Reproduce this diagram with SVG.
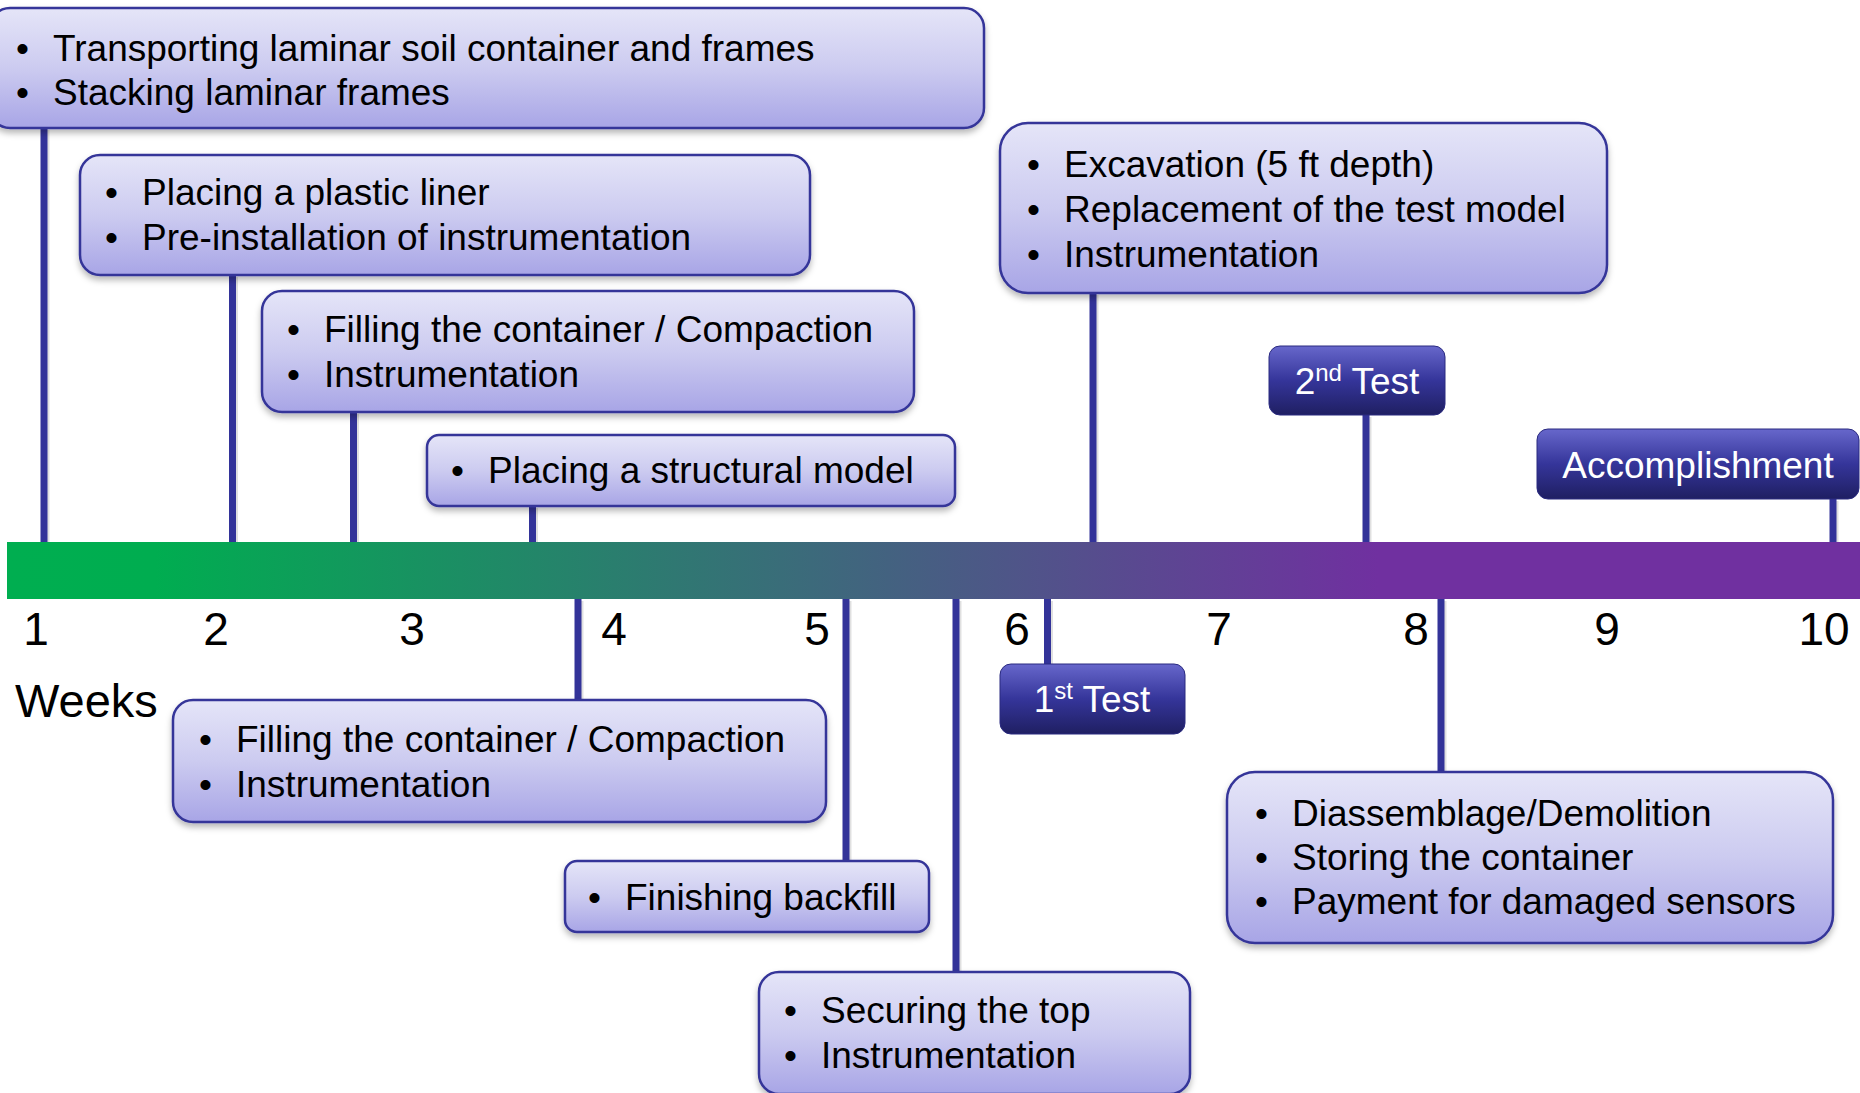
<svg xmlns="http://www.w3.org/2000/svg" width="1860" height="1093" viewBox="0 0 1860 1093">
<defs>
<linearGradient id="lightFill" x1="0" y1="0" x2="0" y2="1">
<stop offset="0" stop-color="#e5e5f8"/>
<stop offset="0.5" stop-color="#cccbf0"/>
<stop offset="1" stop-color="#a8a5e6"/>
</linearGradient>
<linearGradient id="darkFill" x1="0" y1="0" x2="0" y2="1">
<stop offset="0" stop-color="#6767cb"/>
<stop offset="0.5" stop-color="#35359a"/>
<stop offset="1" stop-color="#1f1f62"/>
</linearGradient>
<linearGradient id="barFill" x1="0" y1="0" x2="1" y2="0">
<stop offset="0" stop-color="#00ae50"/>
<stop offset="0.08" stop-color="#00ad50"/>
<stop offset="0.74" stop-color="#7030a0"/>
<stop offset="1" stop-color="#7030a0"/>
</linearGradient>
<filter id="shadow" x="-5%" y="-10%" width="110%" height="130%">
<feDropShadow dx="0" dy="4" stdDeviation="3" flood-color="#000" flood-opacity="0.28"/>
</filter>
</defs>
<style>
.box{fill:url(#lightFill);stroke:#343499;stroke-width:2.5;filter:url(#shadow)}
.dbox{fill:url(#darkFill);stroke:#2a2a80;stroke-width:1}
.t{font-family:"Liberation Sans",Arial,sans-serif;font-size:37px;fill:#000}
.w{font-family:"Liberation Sans",Arial,sans-serif;font-size:37px;fill:#fff;text-anchor:middle}
.num{font-family:"Liberation Sans",Arial,sans-serif;font-size:46px;fill:#000;text-anchor:middle}
.conn line{stroke:#333399;stroke-width:7}
.connsh line{stroke:#000;stroke-opacity:0.12;stroke-width:7}
</style>
<rect width="1860" height="1093" fill="#ffffff"/>

<g id="timeline-bar">
<rect x="7" y="542" width="1853" height="57" fill="url(#barFill)"/>
</g>

<g id="connectors">
<g class="connsh" transform="translate(2,2)">
<line x1="44" y1="128" x2="44" y2="540"/>
<line x1="232.5" y1="275" x2="232.5" y2="540"/>
<line x1="353.5" y1="412" x2="353.5" y2="540"/>
<line x1="532.5" y1="506" x2="532.5" y2="540"/>
<line x1="1093" y1="293" x2="1093" y2="540"/>
<line x1="1366" y1="415" x2="1366" y2="540"/>
<line x1="1833" y1="499" x2="1833" y2="540"/>
<line x1="578" y1="599" x2="578" y2="698"/>
<line x1="846" y1="599" x2="846" y2="859"/>
<line x1="956" y1="599" x2="956" y2="970"/>
<line x1="1047.5" y1="599" x2="1047.5" y2="662"/>
<line x1="1441" y1="599" x2="1441" y2="770"/>
</g>
<g class="conn">
<line x1="44" y1="128" x2="44" y2="542"/>
<line x1="232.5" y1="275" x2="232.5" y2="542"/>
<line x1="353.5" y1="412" x2="353.5" y2="542"/>
<line x1="532.5" y1="506" x2="532.5" y2="542"/>
<line x1="1093" y1="293" x2="1093" y2="542"/>
<line x1="1366" y1="415" x2="1366" y2="542"/>
<line x1="1833" y1="499" x2="1833" y2="542"/>
<line x1="578" y1="599" x2="578" y2="700"/>
<line x1="846" y1="599" x2="846" y2="861"/>
<line x1="956" y1="599" x2="956" y2="972"/>
<line x1="1047.5" y1="599" x2="1047.5" y2="664"/>
<line x1="1441" y1="599" x2="1441" y2="772"/>
</g>
</g>

<g id="week-labels">
<text class="num" x="36" y="645">1</text>
<text class="num" x="216" y="645">2</text>
<text class="num" x="412" y="645">3</text>
<text class="num" x="614" y="645">4</text>
<text class="num" x="817" y="645">5</text>
<text class="num" x="1017" y="645">6</text>
<text class="num" x="1219" y="645">7</text>
<text class="num" x="1416" y="645">8</text>
<text class="num" x="1607" y="645">9</text>
<text class="num" x="1824" y="645">10</text>
<text x="15" y="717" style="font-family:'Liberation Sans',Arial,sans-serif;font-size:47px;fill:#000">Weeks</text>
</g>

<g id="box-transport">
<rect class="box" x="-10" y="8" width="994" height="120" rx="20"/>
<text class="t" x="16" y="61">•</text><text class="t" x="53" y="61">Transporting laminar soil container and frames</text>
<text class="t" x="16" y="105">•</text><text class="t" x="53" y="105">Stacking laminar frames</text>
</g>

<g id="box-liner">
<rect class="box" x="80" y="155" width="730" height="120" rx="20"/>
<text class="t" x="105" y="205">•</text><text class="t" x="142" y="205">Placing a plastic liner</text>
<text class="t" x="105" y="250">•</text><text class="t" x="142" y="250">Pre-installation of instrumentation</text>
</g>

<g id="box-filling1">
<rect class="box" x="262" y="291" width="652" height="121" rx="20"/>
<text class="t" x="287" y="342">•</text><text class="t" x="324" y="342">Filling the container / Compaction</text>
<text class="t" x="287" y="387">•</text><text class="t" x="324" y="387">Instrumentation</text>
</g>

<g id="box-structural">
<rect class="box" x="427" y="435" width="528" height="71" rx="12"/>
<text class="t" x="451" y="483">•</text><text class="t" x="488" y="483">Placing a structural model</text>
</g>

<g id="box-excavation">
<rect class="box" x="1000" y="123" width="607" height="170" rx="28"/>
<text class="t" x="1027" y="177">•</text><text class="t" x="1064" y="177">Excavation (5 ft depth)</text>
<text class="t" x="1027" y="222">•</text><text class="t" x="1064" y="222">Replacement of the test model</text>
<text class="t" x="1027" y="267">•</text><text class="t" x="1064" y="267">Instrumentation</text>
</g>

<g id="box-test2">
<rect class="dbox" x="1269" y="346" width="176" height="69" rx="11"/>
<text class="w" x="1357" y="394">2<tspan font-size="24" dy="-13">nd</tspan><tspan dy="13"> Test</tspan></text>
</g>

<g id="box-accomplishment">
<rect class="dbox" x="1537" y="429" width="322" height="70" rx="11"/>
<text class="w" x="1698" y="478">Accomplishment</text>
</g>

<g id="box-filling2">
<rect class="box" x="173" y="700" width="653" height="122" rx="20"/>
<text class="t" x="199" y="752">•</text><text class="t" x="236" y="752">Filling the container / Compaction</text>
<text class="t" x="199" y="797">•</text><text class="t" x="236" y="797">Instrumentation</text>
</g>

<g id="box-backfill">
<rect class="box" x="565" y="861" width="364" height="71" rx="12"/>
<text class="t" x="588" y="910">•</text><text class="t" x="625" y="910">Finishing backfill</text>
</g>

<g id="box-securing">
<rect class="box" x="759" y="972" width="431" height="122" rx="20"/>
<text class="t" x="784" y="1023">•</text><text class="t" x="821" y="1023">Securing the top</text>
<text class="t" x="784" y="1068">•</text><text class="t" x="821" y="1068">Instrumentation</text>
</g>

<g id="box-test1">
<rect class="dbox" x="1000" y="664" width="185" height="70" rx="11"/>
<text class="w" x="1092" y="712">1<tspan font-size="24" dy="-13">st</tspan><tspan dy="13"> Test</tspan></text>
</g>

<g id="box-disassembly">
<rect class="box" x="1227" y="772" width="606" height="171" rx="28"/>
<text class="t" x="1255" y="826">•</text><text class="t" x="1292" y="826">Diassemblage/Demolition</text>
<text class="t" x="1255" y="870">•</text><text class="t" x="1292" y="870">Storing the container</text>
<text class="t" x="1255" y="914">•</text><text class="t" x="1292" y="914">Payment for damaged sensors</text>
</g>
</svg>
